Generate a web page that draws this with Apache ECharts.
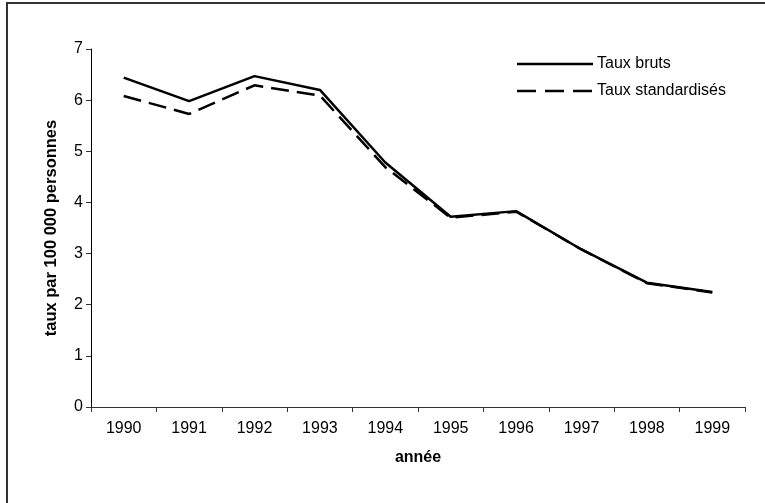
<!DOCTYPE html>
<html>
<head>
<meta charset="utf-8">
<script src="https://cdn.jsdelivr.net/npm/echarts@6/dist/echarts.min.js"></script>
<style>
  html, body { margin: 0; padding: 0; background: #fff; }
  #chart { width: 765px; height: 503px; }
</style>
</head>
<body>
<div id="chart"></div>
<script>
// Années observées
const annees = ['1990', '1991', '1992', '1993', '1994', '1995', '1996', '1997', '1998', '1999'];
// Taux bruts (pour 100 000 personnes)
const tauxBruts = [6.44, 5.98, 6.47, 6.20, 4.78, 3.72, 3.83, 3.08, 2.43, 2.25];
// Taux standardisés (pour 100 000 personnes)
const tauxStandardises = [6.08, 5.73, 6.29, 6.09, 4.69, 3.70, 3.82, 3.08, 2.42, 2.24];
// Graduations de l'axe vertical
const yTicks = [0, 1, 2, 3, 4, 5, 6, 7];
// Libellés de la légende
const nomsSeries = ['Taux bruts', 'Taux standardisés'];

const font = 'Liberation Sans, Arial, sans-serif';
const pointilles = [19, 9];
const chart = echarts.init(document.getElementById('chart'), null, { renderer: 'canvas' });

// Légende dessinée à la main : trait + libellé
const legendeX = 517, legendeY = 64, legendePas = 27, traitLong = 76;
const legende = [];
nomsSeries.forEach(function (nom, i) {
  const y = legendeY + i * legendePas;
  legende.push({
    type: 'line',
    silent: true,
    shape: { x1: legendeX, y1: y, x2: legendeX + traitLong, y2: y },
    style: { stroke: '#000', lineWidth: 2.5, lineDash: i === 1 ? pointilles : null }
  });
  legende.push({
    type: 'text',
    silent: true,
    x: legendeX + traitLong + 4,
    y: y,
    style: { text: nom, fill: '#000', font: '16px ' + font, verticalAlign: 'middle', align: 'left' }
  });
});

chart.setOption({
  animation: false,
  backgroundColor: '#ffffff',
  graphic: [{
    type: 'rect',
    shape: { x: 7, y: 3, width: 800, height: 600 },
    style: { fill: 'none', stroke: '#333', lineWidth: 2 },
    silent: true
  }].concat(legende),
  grid: { left: 91, right: 20, top: 49, bottom: 96, containLabel: false },
  xAxis: {
    type: 'category',
    data: annees,
    boundaryGap: true,
    name: 'année',
    nameLocation: 'middle',
    nameGap: 43,
    nameTextStyle: { fontFamily: font, fontSize: 16, fontWeight: 'bold', color: '#000' },
    axisLine: { lineStyle: { color: '#333', width: 1 } },
    axisTick: { show: true, length: 5, inside: false, alignWithLabel: false, lineStyle: { color: '#333' } },
    axisLabel: { fontFamily: font, fontSize: 16, color: '#000', margin: 14 },
    splitLine: { show: false }
  },
  yAxis: {
    type: 'value',
    min: yTicks[0],
    max: yTicks[yTicks.length - 1],
    interval: 1,
    name: 'taux par 100 000 personnes',
    nameLocation: 'middle',
    nameGap: 31,
    nameRotate: 90,
    nameTextStyle: { fontFamily: font, fontSize: 16.5, fontWeight: 'bold', color: '#000' },
    axisLine: { show: true, lineStyle: { color: '#000', width: 1 } },
    axisTick: { show: true, length: 5, lineStyle: { color: '#333' } },
    axisLabel: { fontFamily: font, fontSize: 16, color: '#000', margin: 8 },
    splitLine: { show: false }
  },
  series: [
    {
      name: nomsSeries[0],
      type: 'line',
      data: tauxBruts,
      symbol: 'none',
      lineStyle: { color: '#000', width: 2.5, type: 'solid' },
      itemStyle: { color: '#000' }
    },
    {
      name: nomsSeries[1],
      type: 'line',
      data: tauxStandardises,
      symbol: 'none',
      lineStyle: { color: '#000', width: 2.5, type: [18, 8] },
      itemStyle: { color: '#000' }
    }
  ]
});
</script>
</body>
</html>
